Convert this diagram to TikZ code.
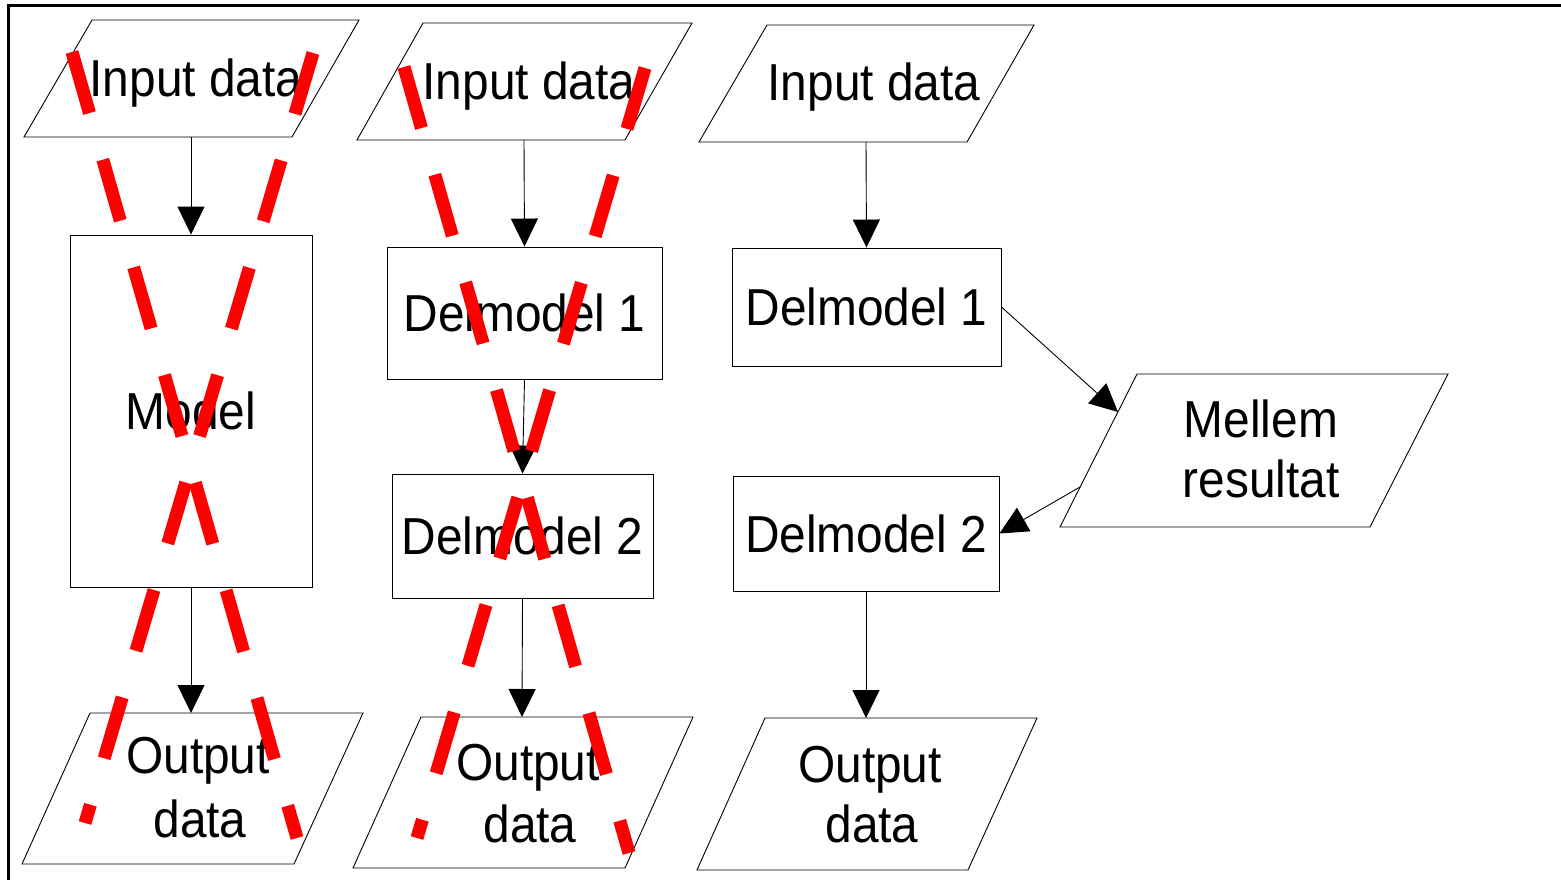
\documentclass[tikz,border=0pt]{standalone}
\usepackage{fontspec}
\setmainfont{Liberation Sans}[FakeStretch=0.92]
\usetikzlibrary{arrows.meta}
\begin{document}
\begin{tikzpicture}[x=1pt,y=-1pt,
  lbl/.style={font=\fontsize{52pt}{60pt}\selectfont, inner sep=0pt, anchor=base},
  box/.style={draw, line width=0.9pt, inner sep=0pt, font=\fontsize{52pt}{60pt}\selectfont},
  para/.style={draw, line width=0.9pt, line join=miter},
  arr/.style={draw, line width=0.9pt, -{Triangle[length=28pt,width=27pt]}},
  cross/.style={draw=red, line width=13pt, line cap=butt, dash pattern=on 63.5pt off 48.5pt}]
% page and frame
\fill[white] (0,0) rectangle (1561,880);
\useasboundingbox (0,0) rectangle (1561,880);
\draw[line width=2.5pt] (1561,5.5) -- (8.5,5.5) -- (8.5,880);

% ---------- column 1: one model ----------
\draw[para] (92,20) -- (359,20) -- (292,137) -- (24,137) -- cycle;
\node[lbl] (in1t) at (196,97) {Input data};
\coordinate (in1s) at (191,137);
\node[box, minimum width=242pt, minimum height=352pt] (mod) at (191,411) {Model};
\draw[para] (90,713) -- (363,713) -- (294,864) -- (22,864) -- cycle;
\node[lbl] (out1a) at (198,773) {Output};
\node[lbl] (out1b) at (200,837) {data};
\coordinate (out1n) at (191,713);
\draw[arr] (in1s) -- (mod.north);
\draw[arr] (mod.south) -- (out1n);

% ---------- column 2: two chained sub-models ----------
\draw[para] (423,23) -- (692,23) -- (625,140) -- (357,140) -- cycle;
\node[lbl] (in2t) at (529,100) {Input data};
\coordinate (in2s) at (524,140);
\node[box, minimum width=275pt, minimum height=132pt] (d21) at (524.5,313) {Delmodel 1};
\node[box, minimum width=261pt, minimum height=124pt] (d22) at (522.5,536) {Delmodel 2};
\draw[para] (421,717) -- (693,717) -- (625,868) -- (353,868) -- cycle;
\node[lbl] (out2a) at (528,780) {Output};
\node[lbl] (out2b) at (530,842) {data};
\coordinate (out2n) at (522,717);
\draw[arr] (in2s) -- (d21.north);
\draw[arr] (d21.south) -- (d22.north);
\draw[arr] (d22.south) -- (out2n);

% ---------- column 3: sub-models via intermediate result ----------
\draw[para] (767,25) -- (1034,25) -- (967,142) -- (699,142) -- cycle;
\node[lbl] (in3t) at (874,101) {Input data};
\coordinate (in3s) at (866,142);
\node[box, minimum width=269pt, minimum height=118pt] (d31) at (866.5,307) {Delmodel 1};
\node[box, minimum width=266pt, minimum height=115pt] (d32) at (866,533.5) {Delmodel 2};
\draw[para] (1137,374) -- (1448,374) -- (1370,527) -- (1060,527) -- cycle;
\node[lbl] (mra) at (1261,437) {Mellem};
\node[lbl] (mrb) at (1261,497) {resultat};
\coordinate (mrin) at (1118,412);
\coordinate (mrout) at (1080,487);
\draw[para] (765,718) -- (1037,718) -- (968,870) -- (697,870) -- cycle;
\node[lbl] (out3a) at (870,782) {Output};
\node[lbl] (out3b) at (872,842) {data};
\coordinate (out3n) at (866,718);
\draw[arr] (in3s) -- (d31.north);
\draw[arr] (d31.east) -- (mrin);
\draw[arr] (mrout) -- (d32.east);
\draw[arr] (d32.south) -- (out3n);

% ---------- red crossing-out of columns 1 and 2 ----------
\draw[cross] (72,52) -- (297,838);
\draw[cross] (313,53) -- (85,823);
\draw[cross] (404,67) -- (629,853);
\draw[cross] (645,68) -- (417,838);
\end{tikzpicture}
\end{document}
